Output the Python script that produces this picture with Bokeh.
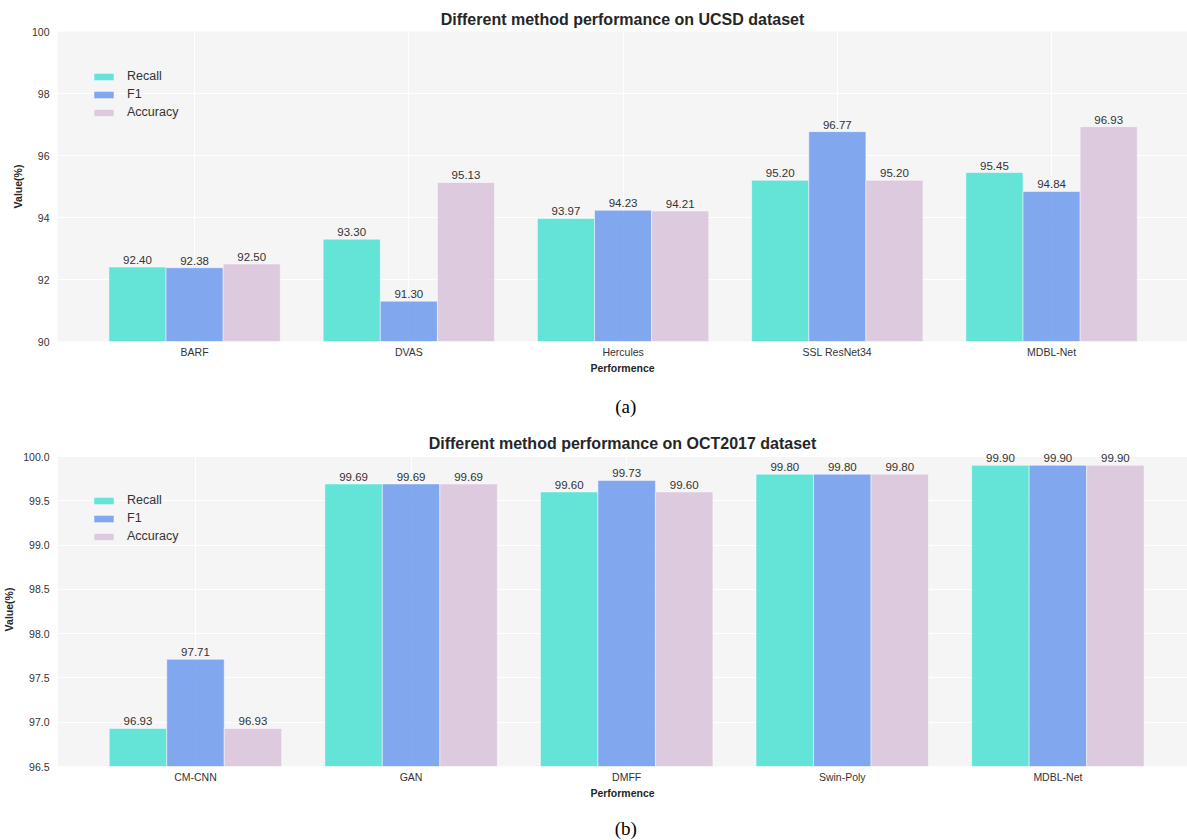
from bokeh.plotting import figure
from bokeh.models import (Range1d, FixedTicker, Legend, LegendItem, Label,
                          ColumnDataSource, LabelSet, NumeralTickFormatter)
from bokeh.layouts import column
from bokeh.embed import file_html
from bokeh.resources import INLINE
from bokeh.core.properties import value

# ---------------- data ----------------
series_names = ["Recall", "F1", "Accuracy"]
series_colors = ["#40E0D0", "#6495ED", "#D8BFD8"]

ucsd_methods = ["BARF", "DVAS", "Hercules", "SSL ResNet34", "MDBL-Net"]
ucsd_recall = [92.40, 93.30, 93.97, 95.20, 95.45]
ucsd_f1 = [92.38, 91.30, 94.23, 96.77, 94.84]
ucsd_accuracy = [92.50, 95.13, 94.21, 95.20, 96.93]
ucsd_yticks = [90, 92, 94, 96, 98, 100]

oct_methods = ["CM-CNN", "GAN", "DMFF", "Swin-Poly", "MDBL-Net"]
oct_recall = [96.93, 99.69, 99.60, 99.80, 99.90]
oct_f1 = [97.71, 99.69, 99.73, 99.80, 99.90]
oct_accuracy = [96.93, 99.69, 99.60, 99.80, 99.90]
oct_yticks = [96.5, 97.0, 97.5, 98.0, 98.5, 99.0, 99.5, 100.0]

captions = ["(a)", "(b)"]

FONT = "Liberation Sans"
GROUP = 0.8
BW = GROUP / 3
FIG_W = 1187
CAPTION_X = 597   # page x of the caption centre
BG = "#f5f5f5"


def make_chart(title, methods, series, yticks, yfmt, height,
               border_left, border_top, border_bottom, px_per_x, top_pad_px,
               frame_h, title_standoff, legend_top):
    y0, y1 = yticks[0], yticks[-1]
    x0 = -0.64
    x_end = x0 + (FIG_W - border_left) / px_per_x
    y_top = y1 + top_pad_px * (y1 - y0) / (frame_h - top_pad_px)
    p = figure(width=FIG_W, height=height, output_backend="svg",
               toolbar_location=None,
               x_range=Range1d(x0, x_end), y_range=Range1d(y0, y_top),
               min_border_left=border_left, min_border_right=0,
               min_border_top=border_top, min_border_bottom=border_bottom)
    p.border_fill_color = "white"
    p.outline_line_color = None
    if top_pad_px > 0:
        # grey panel only up to the top tick; the strip above stays white
        p.background_fill_color = "white"
        p.quad(left=x0, right=x_end, bottom=y0, top=y1, fill_color=BG,
               line_color=None, level="image")
    else:
        p.background_fill_color = BG

    p.title.text = title
    p.title.align = "center"
    p.title.text_font = FONT
    p.title.text_font_size = "16px"
    p.title.text_font_style = "bold"
    p.title.text_color = "#262626"
    p.title.standoff = title_standoff

    idx = list(range(len(methods)))
    items = []
    for k, (name, vals, col) in enumerate(zip(series_names, series, series_colors)):
        xs = [i + (k - 1) * BW for i in idx]
        src = ColumnDataSource(dict(x=xs, top=vals,
                                    label=["%.2f" % v for v in vals]))
        r = p.vbar(x="x", top="top", bottom=y0, width=BW, source=src,
                   fill_color=col, fill_alpha=0.8,
                   line_color="white", line_alpha=0.6, line_width=0.8)
        items.append(LegendItem(label=name, renderers=[r]))
        p.add_layout(LabelSet(x="x", y="top", text="label", source=src,
                              text_align="center", text_baseline="alphabetic",
                              y_offset=3, text_font=value(FONT),
                              text_font_size="11.5px", text_color="#333333"))

    legend_h = 2 * 2 + 3 * 14 + 2 * 4
    legend = Legend(items=items,
                    location=(34, frame_h - legend_top - legend_h),
                    border_line_color=None, background_fill_alpha=0,
                    label_text_font=FONT, label_text_font_size="12.5px",
                    label_text_color="#333333",
                    glyph_width=25, glyph_height=9, label_height=9,
                    spacing=4, margin=0, padding=2, label_standoff=11)
    p.add_layout(legend)

    # axes
    p.xaxis.ticker = FixedTicker(ticks=idx)
    p.xaxis.major_label_overrides = {i: m for i, m in zip(idx, methods)}
    p.yaxis.ticker = FixedTicker(ticks=yticks)
    if yfmt:
        p.yaxis.formatter = NumeralTickFormatter(format=yfmt)
    for ax in (p.xaxis[0], p.yaxis[0]):
        ax.axis_line_color = None
        ax.major_tick_line_color = None
        ax.minor_tick_line_color = None
        ax.major_tick_out = 0
        ax.major_tick_in = 0
        ax.minor_tick_out = 0
        ax.minor_tick_in = 0
        ax.major_label_text_font = FONT
        ax.major_label_text_font_size = "10.5px"
        ax.major_label_text_color = "#333333"
        ax.axis_label_text_font = FONT
        ax.axis_label_text_font_size = "10.5px"
        ax.axis_label_text_font_style = "bold"
        ax.axis_label_text_color = "#262626"
    p.xaxis.axis_label = "Performence"
    p.xaxis.major_label_standoff = 4
    p.xaxis.axis_label_standoff = 1
    p.yaxis.axis_label = "Value(%)"
    p.yaxis.major_label_standoff = 8
    p.yaxis.axis_label_standoff = 5

    p.xgrid.ticker = FixedTicker(ticks=idx)
    p.ygrid.ticker = FixedTicker(ticks=yticks)
    for g in (p.xgrid[0], p.ygrid[0]):
        g.grid_line_color = "white"
        g.grid_line_width = 1
    return p


def make_caption(text, height, center_from_top):
    c = figure(width=FIG_W, height=height, output_backend="svg",
               toolbar_location=None, x_axis_location=None,
               y_axis_location=None, min_border=0,
               x_range=Range1d(0, FIG_W), y_range=Range1d(0, height))
    c.grid.visible = False
    c.outline_line_color = None
    c.background_fill_color = "white"
    c.border_fill_color = "white"
    c.add_layout(Label(x=CAPTION_X, y=height - center_from_top, text=text,
                       text_align="center", text_baseline="middle",
                       text_font="Liberation Serif", text_font_size="19px",
                       text_color="black"))
    return c


p1 = make_chart("Different method performance on UCSD dataset",
                ucsd_methods, [ucsd_recall, ucsd_f1, ucsd_accuracy],
                ucsd_yticks, None, 385, 53, 31, 44, 215.0, 0, 310, 7, 34)
cap1 = make_caption(captions[0], 40, 21)
p2 = make_chart("Different method performance on OCT2017 dataset",
                oct_methods, [oct_recall, oct_f1, oct_accuracy],
                oct_yticks, "0.0", 386, 57, 27, 45, 215.6, 4, 314, 1, 37)
cap2 = make_caption(captions[1], 29, 17)

layout = column(p1, cap1, p2, cap2, spacing=0)
open("out.html", "w").write(file_html(layout, INLINE))
